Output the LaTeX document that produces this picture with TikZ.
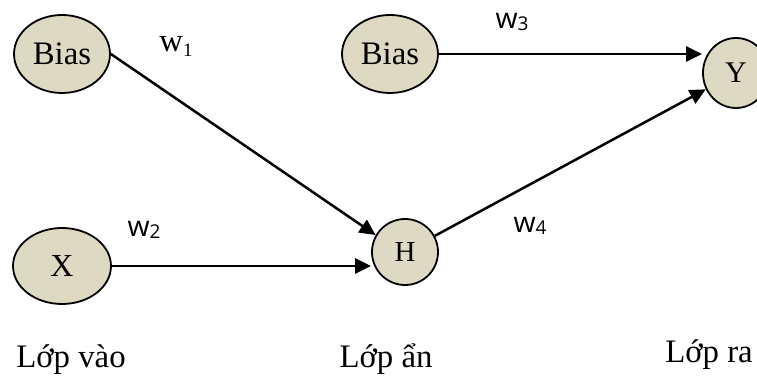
\documentclass[tikz,border=0pt]{standalone}
\usepackage{fontspec}
\setmainfont{Liberation Serif}
\newfontfamily\weightfont{Open Sans}
\usetikzlibrary{arrows.meta, shapes.geometric}

\definecolor{unitfill}{RGB}{221,217,195}

% weight label with a lowered index
\newcommand{\weight}[2]{w\raisebox{#1}{\fontsize{9.5}{10}\selectfont #2}}

\begin{document}
\begin{tikzpicture}[
    x=0.5pt, y=-0.5pt,
    unit/.style={
        ellipse,
        draw=black,
        fill=unitfill,
        line width=0.9pt,
        inner sep=0pt
    },
    wide/.style={
        unit,
        minimum width=48pt,
        minimum height=39pt,
        font=\fontsize{16.4}{19}\selectfont
    },
    round/.style={
        unit,
        minimum width=33pt,
        minimum height=33pt,
        font=\fontsize{14.5}{17}\selectfont
    },
    arrow/.style={
        -{Triangle[length=8pt, width=7.5pt]},
        line width=1.25pt
    },
    wlabel/.style={
        font=\weightfont\fontsize{14.2}{16}\selectfont
    },
    layer/.style={
        anchor=base,
        font=\fontsize{16.4}{19}\selectfont
    }
]
\useasboundingbox (0,0) rectangle (757,378);
\clip (0,0) rectangle (757,378);

% Neurons
\node[wide] (bias1) at (62,54) {Bias};
\node[wide, minimum width=49pt, minimum height=38pt, font=\fontsize{16}{18}\selectfont] (input) at (62,266) {X};
\node[wide] (bias2) at (390,54) {Bias};
\node[round] (hidden) at (405,252) {H};
\node[round, minimum height=35pt, font=\fontsize{15}{18}\selectfont] (output) at (736,73) {Y};

% Connections
\draw[arrow] (bias1.east) -- (hidden.150);
\draw[arrow] (input.east) -- (input.east -| hidden.west);
\draw[arrow] (bias2.east) -- (bias2.east -| output.west);
\draw[arrow] (hidden) -- (output);

% Weights
\node[font=\fontsize{16.4}{19}\selectfont] (w1) at (176,46) {\weight{-2.5pt}{1}};
\node[wlabel] (w2) at (144,230) {\weight{-1pt}{2}};
\node[wlabel] (w3) at (512,22) {\weight{-1pt}{3}};
\node[wlabel] (w4) at (530,226) {\weight{-1pt}{4}};

% Layer names
\node[layer] (lin) at (71,368) {Lớp vào};
\node[layer] (lhid) at (386,368) {Lớp ẩn};
\node[layer] (lout) at (709,363) {Lớp ra};

\end{tikzpicture}
\end{document}
